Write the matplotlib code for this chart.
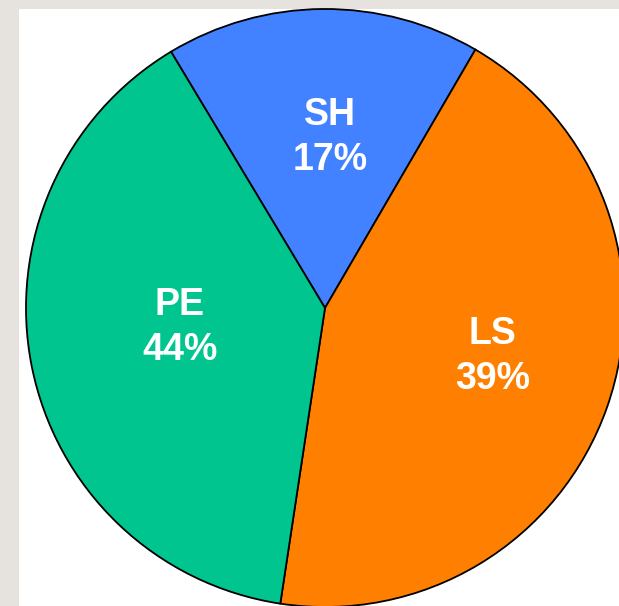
import matplotlib
matplotlib.use("Agg")
import matplotlib.pyplot as plt
from matplotlib.patches import Rectangle

# wedge sizes as drawn (percent of the circle)
groups = ["SH", "LS", "PE"]
sizes = [17, 44, 39]
# percentages printed on the chart
shown_pct = [17, 39, 44]
colors = ["#4281FF", "#FF7F00", "#00C58F"]

# label centres in data units (pie radius = 1)
label_xy = [(0.017, 0.570), (0.559, -0.162), (-0.485, -0.065)]

W, H = 619, 606
cx, cy, R = 325, 308, 299  # pie centre / radius in pixels

fig = plt.figure(figsize=(W / 100, H / 100), dpi=100)
fig.patch.set_facecolor("#E6E2DE")
fig.patches.append(Rectangle((19 / W, 0), 1, 1 - 9 / H, transform=fig.transFigure,
                             facecolor="white", edgecolor="none", zorder=-10))

ax = fig.add_axes([0, 0, 1, 1])
ax.set_facecolor("none")
ax.pie(sizes, colors=colors, startangle=121, counterclock=False,
       wedgeprops=dict(edgecolor="black", linewidth=1.3))
ax.set_aspect("auto")
ax.set_xlim(-cx / R, (W - cx) / R)
ax.set_ylim(-(H - cy) / R, cy / R)
ax.axis("off")

for (x, y), g, p in zip(label_xy, groups, shown_pct):
    ax.text(x, y, f"{g}\n{p}%", ha="center", va="center", color="white",
            fontsize=27, fontweight="bold", family="Liberation Sans",
            linespacing=1.3)

fig.savefig("out.png", dpi=100)
